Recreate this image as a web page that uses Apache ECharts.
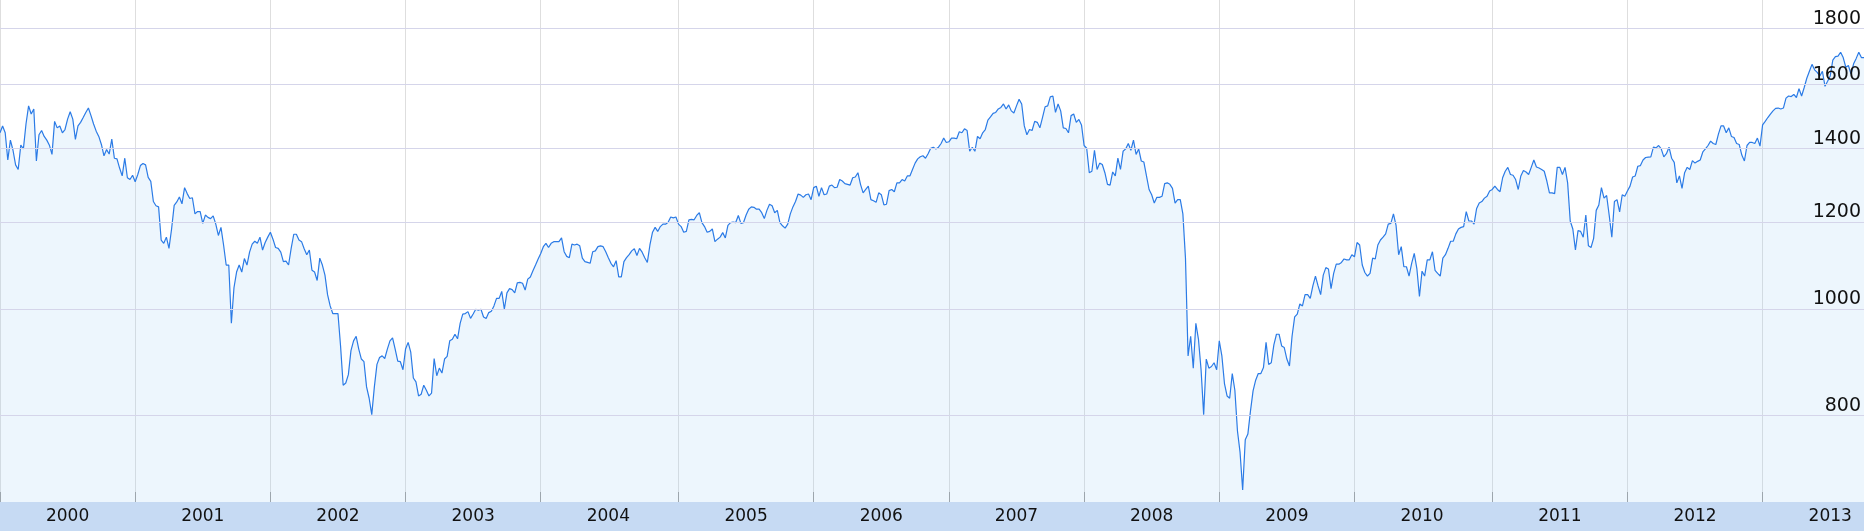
<!DOCTYPE html>
<html>
<head>
<meta charset="utf-8">
<script src="https://cdn.jsdelivr.net/npm/echarts@6/dist/echarts.min.js"></script>
<style>
html,body{margin:0;padding:0;background:#ffffff;}
#chart{width:1864px;height:531px;background:linear-gradient(to bottom,#ffffff 0px,#ffffff 502px,#c6daf3 502px,#c6daf3 531px);}
</style>
</head>
<body>
<div id="chart"></div>
<script>
// Weekly closes (first value = first Friday of the year, then one per week)
const years = [2000,2001,2002,2003,2004,2005,2006,2007,2008,2009,2010,2011,2012,2013];
const w2000 = [1446,1467,1446,1366,1424,1394,1352,1339,1409,1398,1473,1530,1504,1520,1363,1440,1453,1435,1424,1409,1382,1481,1461,1467,1446,1456,1488,1511,1488,1426,1467,1478,1493,1509,1523,1499,1473,1451,1435,1411,1378,1396,1383,1427,1371,1369,1343,1321,1371,1316,1311,1323];
const w2001 = [1305,1325,1350,1356,1352,1317,1306,1252,1241,1238,1155,1147,1162,1135,1182,1242,1251,1264,1246,1289,1273,1260,1262,1220,1226,1226,1196,1217,1211,1208,1215,1194,1166,1186,1143,1096,1096,970,1045,1080,1096,1080,1111,1096,1126,1145,1152,1147,1162,1131,1149,1162];
const w2002 = [1174,1157,1137,1135,1126,1104,1105,1096,1135,1169,1169,1155,1151,1134,1120,1131,1084,1080,1061,1112,1096,1073,1030,1006,990,990,990,925,852,856,871,916,935,944,919,900,895,849,829,801,849,890,903,906,901,919,935,941,919,896,895,880];
const w2003 = [919,932,913,865,858,833,836,852,843,833,838,901,869,883,874,900,905,935,938,948,939,970,989,990,994,980,989,999,997,999,983,980,992,995,1006,1022,1022,1037,999,1034,1043,1041,1034,1056,1057,1055,1040,1064,1069,1083,1096,1110];
const w2004 = [1123,1139,1147,1137,1147,1151,1151,1151,1160,1127,1116,1113,1145,1143,1145,1141,1112,1104,1102,1100,1127,1129,1139,1141,1139,1127,1113,1100,1092,1106,1069,1069,1104,1113,1120,1129,1134,1118,1135,1126,1113,1102,1143,1174,1186,1176,1188,1194,1194,1199,1212,1210,1212];
const w2005 = [1194,1188,1174,1176,1205,1206,1205,1216,1223,1198,1188,1174,1176,1182,1151,1157,1162,1173,1160,1191,1198,1199,1198,1216,1196,1198,1217,1232,1238,1237,1232,1232,1223,1208,1229,1245,1241,1223,1229,1198,1190,1184,1194,1220,1238,1252,1272,1269,1263,1270,1272,1257];
const w2006 = [1289,1293,1266,1289,1270,1272,1293,1296,1289,1290,1311,1307,1300,1298,1296,1316,1318,1330,1298,1275,1284,1293,1257,1254,1250,1275,1270,1243,1245,1281,1284,1278,1302,1302,1311,1307,1321,1321,1339,1357,1369,1375,1378,1371,1384,1400,1403,1398,1403,1414,1430,1417];
const w2007 = [1419,1430,1430,1428,1449,1446,1458,1453,1391,1403,1391,1435,1428,1446,1456,1485,1495,1506,1509,1520,1525,1536,1520,1533,1514,1507,1530,1551,1536,1467,1440,1456,1453,1481,1478,1461,1493,1527,1530,1559,1562,1509,1536,1514,1461,1459,1446,1499,1504,1478,1487,1470];
const w2008 = [1408,1400,1330,1334,1394,1339,1357,1353,1330,1298,1296,1332,1321,1371,1339,1391,1398,1414,1394,1424,1382,1398,1363,1360,1321,1284,1270,1248,1263,1263,1266,1300,1302,1298,1287,1248,1257,1257,1220,1112,906,944,883,970,938,880,801,900,883,886,893,880];
const w2009 = [935,906,855,833,829,873,843,774,740,684,760,769,807,842,861,873,873,884,932,890,893,927,948,948,925,922,900,887,944,983,989,1010,1006,1030,1030,1022,1049,1071,1049,1030,1073,1090,1087,1043,1077,1098,1098,1102,1110,1108,1108,1120];
const w2010 = [1115,1149,1143,1096,1079,1071,1077,1112,1110,1143,1155,1162,1170,1194,1196,1220,1191,1120,1139,1092,1092,1071,1100,1123,1088,1026,1082,1071,1108,1108,1127,1084,1077,1071,1112,1120,1135,1152,1152,1170,1182,1186,1188,1226,1202,1202,1194,1234,1248,1252,1261,1266,1280];
const w2011 = [1284,1293,1284,1278,1316,1334,1345,1325,1323,1311,1284,1321,1336,1332,1325,1345,1366,1346,1343,1339,1334,1307,1275,1275,1273,1345,1345,1325,1345,1302,1202,1182,1131,1178,1176,1162,1217,1141,1137,1159,1229,1243,1289,1261,1268,1216,1162,1252,1257,1225,1270,1266];
const w2012 = [1280,1293,1318,1321,1348,1350,1366,1373,1374,1375,1403,1401,1408,1398,1375,1384,1403,1371,1359,1302,1321,1287,1330,1345,1339,1364,1357,1362,1366,1389,1398,1408,1421,1414,1411,1442,1467,1467,1446,1461,1435,1432,1414,1411,1380,1363,1408,1417,1417,1414,1430,1406];
const w2013 = [1470,1481,1493,1504,1514,1522,1523,1520,1523,1555,1562,1560,1567,1557,1586,1562,1590,1621,1645,1669,1650,1641,1629,1645,1594,1611,1629,1684,1696,1698,1712,1693,1659,1665,1635,1671,1690,1712,1693,1693];
const yTicks = [800,1000,1200,1400,1600,1800];

const weekly = {2000:w2000,2001:w2001,2002:w2002,2003:w2003,2004:w2004,2005:w2005,2006:w2006,
  2007:w2007,2008:w2008,2009:w2009,2010:w2010,2011:w2011,2012:w2012,2013:w2013};
const DAY = 86400000;
function firstFriday(y){
  const dow = new Date(Date.UTC(y,0,1)).getUTCDay();
  return Date.UTC(y,0,1 + ((5 - dow + 7) % 7));
}
const seriesData = [];
years.forEach(function(y){
  const s = firstFriday(y);
  weekly[y].forEach(function(v,i){ seriesData.push([s + i*7*DAY, v]); });
});
const yearStarts = years.map(firstFriday);
const yearMids = yearStarts.map(function(t){ return t + 182*DAY; });

const chart = echarts.init(document.getElementById('chart'), null, {renderer:'canvas'});
chart.setOption({
  animation: false,
  backgroundColor: 'transparent',
  grid: {left:0, right:0, top:0, bottom:29, containLabel:false},
  xAxis: {
    type: 'value',
    scale: true,
    min: seriesData[0][0],
    max: seriesData[seriesData.length-1][0],
    axisLine: {show:false},
    axisTick: {show:true, inside:true, length:10, customValues: yearStarts,
      lineStyle:{color:'#9c9c9c', width:1}},
    splitLine: {show:true, lineStyle:{color:'#dedede', width:1}},
    axisLabel: {customValues: yearMids, margin:15, verticalAlign:'middle',
      formatter: function(v){ return String(new Date(v).getUTCFullYear()); },
      color:'#111111', fontFamily:'DejaVu Sans', fontSize:17}
  },
  yAxis: {
    type: 'log',
    logBase: 10,
    min: 667,
    max: 1910,
    position: 'right',
    z: 3,
    axisLine: {show:false},
    axisTick: {show:false, customValues: yTicks},
    splitLine: {show:true, lineStyle:{color:'#d5d5ea', width:1}},
    axisLabel: {customValues: yTicks, inside:true, margin:3, verticalAlign:'bottom',
      formatter: function(v){ return String(Math.round(v)); },
      color:'#111111', fontFamily:'DejaVu Sans', fontSize:19}
  },
  series: [{
    type: 'line',
    data: seriesData,
    showSymbol: false,
    symbol: 'none',
    silent: true,
    z: 2,
    lineStyle: {color:'#2b7be6', width:1.2},
    areaStyle: {color:'#a6d0f6', opacity:0.2}
  }]
});
</script>
</body>
</html>
